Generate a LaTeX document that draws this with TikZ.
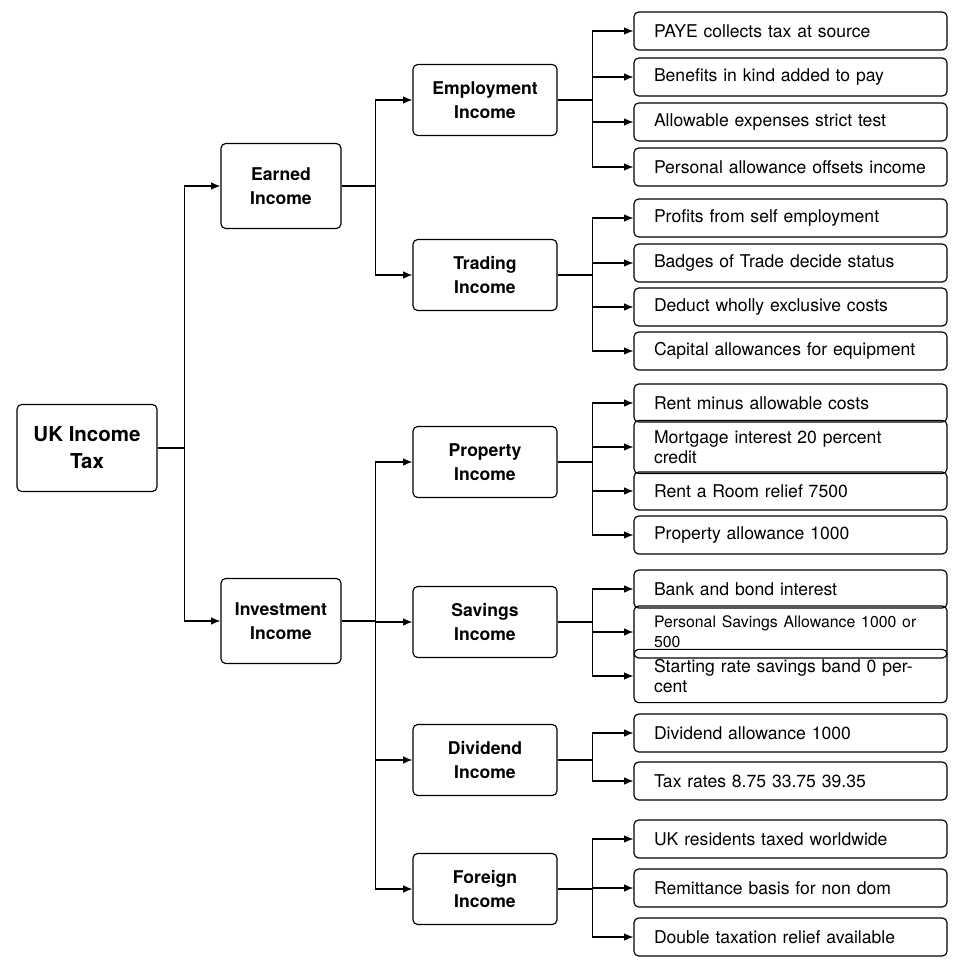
\documentclass[tikz,border=0pt]{standalone}
\usepackage{fontspec}
\setmainfont{TeX Gyre Heros}
\usetikzlibrary{arrows.meta,positioning}
\tikzset{%
  box/.style    = {shape=rectangle, rounded corners=4pt, draw, line width=1pt,%
                   align=center, font=\bfseries\fontsize{15}{21}\selectfont},%
  root/.style   = {box, minimum width=4.2cm, minimum height=2.61cm,%
                   font=\bfseries\fontsize{17.5}{23}\selectfont},%
  group/.style  = {box, minimum width=3.6cm, minimum height=2.55cm},%
  income/.style = {box, minimum width=4.32cm, minimum height=2.13cm},%
  leaf/.style   = {box, font=\fontsize{15}{17}\selectfont, align=left,%
                   text width=8.19cm, minimum height=1.14cm,%
                   inner xsep=0.6cm, inner ysep=0.3cm},%
  link/.style   = {-{Latex[length=8pt,width=6.5pt]}, line width=1pt}%
}
\begin{document}
\begin{tikzpicture}[x=0.03cm, y=-0.03cm]
  \useasboundingbox (0,0) rectangle (965,976);
  % -------------- main branches --------------
  \node [root] (tax) at (87,448) {UK Income\\Tax};
  \node [group] (earned) at (281,186) {Earned\\Income};
  \node [group] (invest) at (281,621) {Investment\\Income};
  \draw [link] (tax.east) -- ++(27,0) |- (earned.west);
  \draw [link] (tax.east) -- ++(27,0) |- (invest.west);
  % -------------- income types --------------
  \node [income] (emp) at (485,100) {Employment\\Income};
  \node [income] (trade) at (485,275) {Trading\\Income};
  \node [income] (prop) at (485,462) {Property\\Income};
  \node [income] (sav) at (485,622) {Savings\\Income};
  \node [income] (div) at (485,760) {Dividend\\Income};
  \node [income] (forn) at (485,889) {Foreign\\Income};
  \foreach \c in {emp,trade}
    \draw [link] (earned.east) -- ++(34,0) |- (\c.west);
  \foreach \c in {prop,sav,div,forn}
    \draw [link] (invest.east) -- ++(34,0) |- (\c.west);
  % -------------- details --------------
  \foreach \y/\p/\t in {31/emp/PAYE collects tax at source,
      77/emp/Benefits in kind added to pay,
      122/emp/Allowable expenses strict test,
      167/emp/Personal allowance offsets income,
      218/trade/Profits from self employment,
      263/trade/Badges of Trade decide status,
      307/trade/Deduct wholly exclusive costs,
      351/trade/Capital allowances for equipment,
      403/prop/Rent minus allowable costs,
      447/prop/Mortgage interest 20 percent credit,
      491/prop/Rent a Room relief 7500,
      535/prop/Property allowance 1000,
      589/sav/Bank and bond interest,
      632/sav/{\fontsize{13.5}{15}\selectfont Personal Savings Allowance 1000 or 500},
      676/sav/Starting rate savings band 0 percent,
      733/div/Dividend allowance 1000,
      781/div/Tax rates 8.75 33.75 39.35,
      839/forn/UK residents taxed worldwide,
      888/forn/Remittance basis for non dom,
      937/forn/Double taxation relief available} {
    \node [leaf] (d\y) at (790.5,\y) {\t};
    \draw [link] (\p.east) -- ++(35,0) |- (d\y.west);
  }
\end{tikzpicture}
\end{document}
